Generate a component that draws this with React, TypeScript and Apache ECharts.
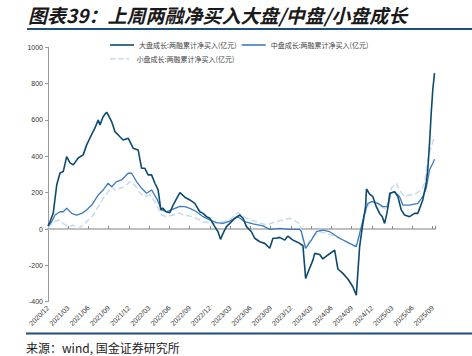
import React, { useEffect, useRef } from "react";
import * as echarts from "echarts";

// x = months since 2020/12, y = cumulative net buy (亿元)
const tickLabels = [
  "2020/12", "2021/03", "2021/06", "2021/09", "2021/12", "2022/03", "2022/06", "2022/09",
  "2022/12", "2023/03", "2023/06", "2023/09", "2023/12", "2024/03", "2024/06", "2024/09",
  "2024/12", "2025/03", "2025/06", "2025/09",
];

const seriesNames = [
  "大盘成长:两融累计净买入(亿元)",
  "中盘成长:两融累计净买入(亿元)",
  "小盘成长:两融累计净买入(亿元)",
];

const largeGrowth: [number, number][] = [
  [0, 18], [0.3, 40], [0.78, 88], [1.29, 242], [1.78, 308], [2.26, 316], [2.77, 398],
  [3.26, 364], [3.74, 353], [4.48, 391], [5.22, 408], [5.73, 463], [6.22, 501], [6.96, 556],
  [7.44, 600], [7.7, 573], [8.18, 619], [8.69, 643], [8.92, 628], [9.43, 591], [9.92, 536],
  [10.66, 508], [11.14, 490], [11.88, 500], [12.62, 445], [13.36, 435], [13.87, 334],
  [14.36, 334], [14.84, 298], [15.35, 298], [15.84, 252], [16.32, 215], [16.72, 105],
  [17.0, 115], [17.5, 95], [18.06, 90], [18.54, 132], [19.54, 200], [20.28, 175], [21.02, 160],
  [21.76, 141], [22.5, 95], [22.98, 86], [23.49, 68], [23.98, 59], [24.72, 13], [25.2, -15],
  [25.56, -57], [25.94, -24], [26.45, 13], [26.94, 31], [27.68, 59], [28.42, 77], [28.9, 59],
  [29.41, 13], [30.15, -15], [30.64, -51], [31.38, -70], [32.12, -79], [32.86, -106],
  [33.34, -51], [33.85, -51], [34.34, -46], [35.08, -61], [35.56, -39], [36.3, -61],
  [36.81, -70], [37.3, -79], [37.78, -92], [38.18, -272], [38.78, -215], [39.26, -171],
  [39.52, -134], [40.26, -140], [40.74, -165], [41.48, -143], [42.48, -116], [42.96, -220],
  [43.7, -244], [44.44, -275], [45.18, -318], [45.69, -364], [46.18, -97], [46.66, 31],
  [47.06, 123], [47.2, 220], [47.66, 192], [48.14, 178], [48.65, 123], [49.14, 86],
  [49.54, 68], [49.88, 31], [50.22, 86], [50.72, 197], [51.36, 205], [51.85, 178],
  [52.35, 105], [52.84, 77], [53.58, 68], [54.32, 86], [54.8, 86], [55.54, 160], [56.05, 252],
  [56.28, 325], [56.54, 472], [56.79, 637], [57.02, 766], [57.28, 858],
];

const midGrowth: [number, number][] = [
  [0, 15], [0.55, 40], [1.04, 77], [1.78, 95], [2.26, 95], [2.77, 114], [3.51, 86],
  [4.25, 77], [4.99, 86], [5.73, 105], [6.47, 132], [7.44, 187], [8.18, 215], [8.92, 252],
  [9.43, 233], [10.17, 261], [10.91, 270], [11.88, 307], [12.39, 307], [13.13, 261],
  [13.87, 224], [14.61, 197], [15.35, 215], [16.09, 169], [16.83, 105], [17.57, 95],
  [18.54, 110], [19.54, 125], [20.28, 123], [21.02, 114], [22.01, 95], [22.98, 68],
  [23.98, 50], [24.97, 35], [25.94, 31], [26.94, 44], [28.16, 68], [29.16, 40], [30.38, 28],
  [31.86, 17], [32.86, -2], [34.34, 4], [35.82, -2], [37.3, -2], [37.55, -15], [38.18, -106],
  [39.03, -61], [39.77, -15], [40.74, -6], [41.74, -15], [43.22, -51], [44.7, -79],
  [45.69, -97], [46.43, 13], [46.92, 86], [47.4, 141], [47.91, 150], [48.14, 150],
  [48.88, 141], [49.62, 123], [50.36, 123], [50.62, 197], [51.36, 205], [52.1, 178],
  [52.59, 132], [53.58, 132], [54.8, 141], [55.54, 178], [56.05, 224], [56.54, 325],
  [57.02, 362], [57.28, 384],
];

const smallGrowth: [number, number][] = [
  [0, 5], [0.55, 31], [1.52, 50], [2.26, 31], [3.0, 13], [3.74, 22], [4.48, 4], [5.22, 22],
  [5.96, 50], [6.7, 77], [7.44, 123], [8.18, 169], [8.92, 205], [9.43, 233], [9.92, 215],
  [10.66, 224], [11.4, 233], [12.14, 261], [12.88, 242], [13.62, 197], [14.36, 178],
  [15.1, 187], [15.84, 150], [16.83, 77], [17.57, 68], [18.54, 77], [19.54, 88], [20.02, 77],
  [21.5, 68], [22.98, 40], [24.46, 31], [25.94, 40], [26.94, 50], [28.16, 90], [29.41, 59],
  [30.89, 40], [32.37, 22], [33.34, 35], [34.82, 50], [35.82, 59], [37.3, 31], [38.04, -106],
  [39.26, -42], [40.26, -15], [41.25, -24], [42.73, -42], [44.21, -70], [45.44, -97],
  [46.18, -42], [46.66, 31], [47.26, 114], [47.66, 141], [48.14, 160], [49.14, 132],
  [50.13, 105], [50.87, 224], [51.61, 252], [52.1, 215], [52.84, 178], [53.58, 187],
  [54.57, 197], [55.31, 215], [55.8, 252], [56.28, 380], [56.79, 453], [57.28, 508],
];

const colors = ["#0c4a6e", "#3b7cc0", "#c6daf0"];

export default function App() {
  const ref = useRef<HTMLDivElement>(null);
  useEffect(() => {
    if (!ref.current) return;
    const chart = echarts.init(ref.current, null, { renderer: "svg" });
    const xMax = 57.35;
    const fmt = (v: number) => {
      const i = v / 3;
      if (Math.abs(i - Math.round(i)) > 0.01) return "";
      return tickLabels[Math.round(i)] ?? "";
    };
    const legendText = { fontSize: 7, color: "#444", fontFamily: "Noto Sans CJK SC" };
    chart.setOption({
      animation: false,
      backgroundColor: "#ffffff",
      grid: { left: 48, right: 37, top: 47.3, bottom: 54.3, containLabel: false },
      legend: [
        {
          data: [seriesNames[0], seriesNames[1]],
          left: 110,
          top: 41.5,
          icon: "rect",
          itemWidth: 24,
          itemHeight: 1.6,
          itemGap: 5,
          padding: 0,
          textStyle: legendText,
        },
        {
          data: [seriesNames[2]],
          left: 110,
          top: 55.2,
          icon: "path://M0,0h7v2h-7z M10,0h7v2h-7z M20,0h4v2h-4z",
          itemWidth: 24,
          itemHeight: 1.6,
          padding: 0,
          textStyle: legendText,
        },
      ],
      xAxis: [
        {
          type: "value",
          min: 0,
          max: xMax,
          interval: 3,
          position: "bottom",
          axisLine: { show: true, onZero: true, lineStyle: { color: "#bfbfbf", width: 2 } },
          axisTick: { show: true, inside: true, length: 3, lineStyle: { color: "#888" } },
          axisLabel: { show: false },
          splitLine: { show: false },
        },
        {
          type: "value",
          min: 0,
          max: xMax,
          interval: 3,
          position: "bottom",
          axisLine: { show: false, onZero: false },
          axisTick: { show: false },
          axisLabel: {
            show: true,
            rotate: 45,
            margin: 5,
            fontSize: 7,
            color: "#333",
            fontFamily: "Liberation Sans",
            formatter: fmt,
          },
          splitLine: { show: false },
        },
      ],
      yAxis: {
        type: "value",
        min: -400,
        max: 1000,
        interval: 200,
        axisLine: { show: true, lineStyle: { color: "#999" } },
        axisTick: { show: true, length: 3, lineStyle: { color: "#999" } },
        axisLabel: {
          fontSize: 7,
          color: "#333",
          margin: 5,
          fontFamily: "Liberation Sans",
          formatter: (v: number) => String(v),
        },
        splitLine: { show: false },
      },
      series: [
        {
          name: seriesNames[0],
          type: "line",
          xAxisIndex: 0,
          data: largeGrowth,
          symbol: "none",
          lineStyle: { color: colors[0], width: 1.6 },
          itemStyle: { color: colors[0] },
          z: 4,
        },
        {
          name: seriesNames[1],
          type: "line",
          xAxisIndex: 0,
          data: midGrowth,
          symbol: "none",
          lineStyle: { color: colors[1], width: 1.3 },
          itemStyle: { color: colors[1] },
          z: 3,
        },
        {
          name: seriesNames[2],
          type: "line",
          xAxisIndex: 0,
          data: smallGrowth,
          symbol: "none",
          lineStyle: { color: colors[2], width: 1.5, type: [6, 3] },
          itemStyle: { color: colors[2] },
          z: 2,
        },
      ],
      graphic: [
        {
          type: "text",
          left: 28,
          top: 5,
          style: {
            text: "图表39：上周两融净买入大盘/中盘/小盘成长",
            fontSize: 19,
            fontStyle: "italic",
            fontWeight: "bold",
            fill: "#1a1a1a",
            fontFamily: "Noto Sans CJK SC",
          },
        },
        {
          type: "line",
          shape: { x1: 27, y1: 29, x2: 472, y2: 29 },
          style: { stroke: "#1f4e79", lineWidth: 2 },
        },
        {
          type: "line",
          shape: { x1: 26, y1: 333.5, x2: 472, y2: 333.5 },
          style: { stroke: "#1f4e79", lineWidth: 2 },
        },
        {
          type: "text",
          left: 26,
          top: 341,
          style: {
            text: "来源：wind, 国金证券研究所",
            fontSize: 12,
            fill: "#222",
            fontFamily: "Noto Sans CJK SC",
          },
        },
      ],
    });
    return () => chart.dispose();
  }, []);
  return <div ref={ref} style={{ width: 472, height: 356, position: "absolute", left: 0, top: 0 }} />;
}
